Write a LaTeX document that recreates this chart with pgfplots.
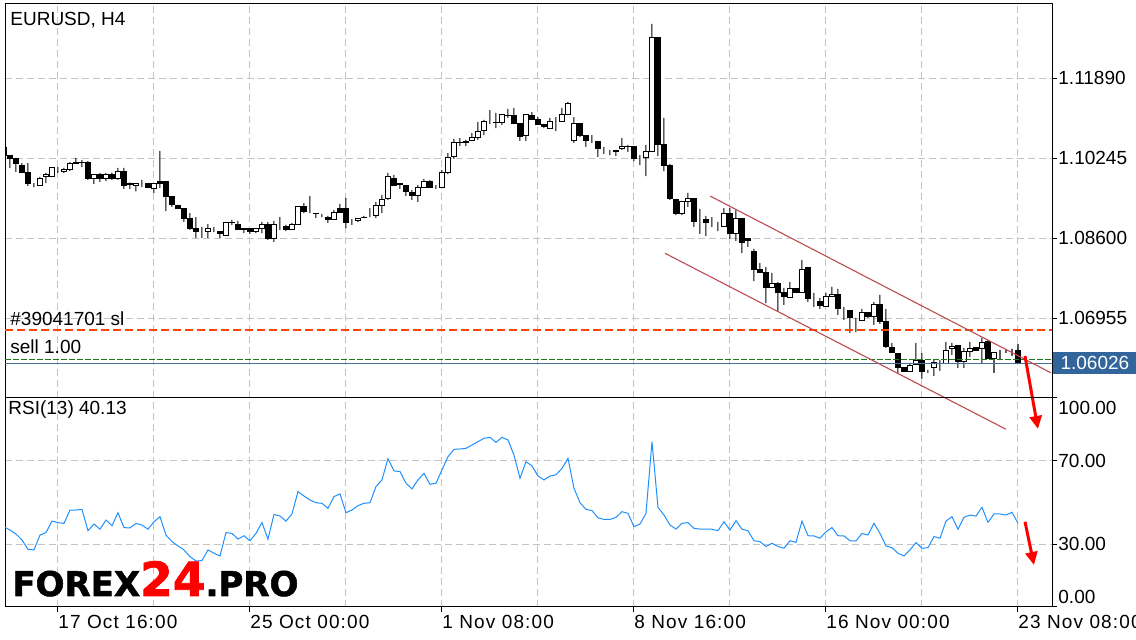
\documentclass[border=0pt]{standalone}
\usepackage{fontspec}
\setmainfont{Liberation Sans}
\newfontfamily\widefont{Liberation Sans}[LetterSpace=6]
\newfontfamily\logofont{DejaVu Sans}[BoldFeatures={FakeBold=1.6}]
\usepackage{pgfplots}
\usepackage{pgfplotstable}
\pgfplotsset{compat=1.18}
\usetikzlibrary{arrows.meta}

\definecolor{gridc}{HTML}{C4C4C4}
\definecolor{rsiblue}{HTML}{1E90FF}
\definecolor{chan}{HTML}{BE4A52}
\definecolor{slorange}{HTML}{FF4500}
\definecolor{sellgreen}{HTML}{1A7A1A}
\definecolor{bidline}{HTML}{4A6F96}
\definecolor{bidbox}{HTML}{31659C}
\definecolor{logored}{HTML}{FF0000}
\newcommand\lbl{\fontsize{9.5pt}{11pt}\selectfont}

% EURUSD H4 candles, x = bar index (0 = 17 Oct 16:00)
\pgfplotstableread{
i o h l c
-9 1.10451 1.10461 1.10266 1.10287
-8 1.10287 1.10297 1.10040 1.10235
-7 1.10225 1.10246 1.09958 1.10122
-6 1.10101 1.10142 1.09937 1.09937
-5 1.09937 1.10142 1.09670 1.09711
-4 1.09690 1.09731 1.09649 1.09690
-3 1.09670 1.09855 1.09670 1.09834
-2 1.09855 1.09937 1.09731 1.09916
-1 1.09875 1.10040 1.09855 1.10040
0 1.10019 1.10060 1.09937 1.10019
1 1.09978 1.10040 1.09937 1.09999
2 1.09999 1.10163 1.09978 1.10142
3 1.10142 1.10246 1.10122 1.10153
4 1.10153 1.10204 1.10060 1.10163
5 1.10163 1.10183 1.09793 1.09814
6 1.09814 1.09896 1.09711 1.09896
7 1.09896 1.09937 1.09752 1.09814
8 1.09814 1.09937 1.09772 1.09896
9 1.09916 1.09947 1.09793 1.09814
10 1.09814 1.10040 1.09793 1.09958
11 1.09958 1.10040 1.09608 1.09690
12 1.09711 1.09742 1.09608 1.09701
13 1.09690 1.09731 1.09557 1.09731
14 1.09711 1.09793 1.09649 1.09711
15 1.09711 1.09731 1.09629 1.09629
16 1.09608 1.09711 1.09526 1.09711
17 1.09772 1.10389 1.09629 1.09731
18 1.09772 1.09772 1.09155 1.09444
19 1.09444 1.09444 1.09238 1.09279
20 1.09259 1.09279 1.09197 1.09197
21 1.09197 1.09217 1.08930 1.09011
22 1.09011 1.09114 1.08765 1.08806
23 1.08786 1.09032 1.08601 1.08724
24 1.08765 1.08827 1.08601 1.08765
25 1.08744 1.08888 1.08601 1.08806
26 1.08786 1.08827 1.08724 1.08786
27 1.08744 1.08744 1.08601 1.08683
28 1.08662 1.08930 1.08662 1.08909
29 1.08909 1.08971 1.08868 1.08919
30 1.08888 1.08950 1.08765 1.08765
31 1.08806 1.08806 1.08703 1.08765
32 1.08786 1.08786 1.08683 1.08724
33 1.08724 1.08786 1.08703 1.08786
34 1.08786 1.08930 1.08703 1.08888
35 1.08888 1.08930 1.08560 1.08580
36 1.08580 1.08950 1.08519 1.08888
37 1.08888 1.09032 1.08765 1.08888
38 1.08827 1.08868 1.08744 1.08765
39 1.08765 1.08909 1.08765 1.08868
40 1.08868 1.09238 1.08868 1.09238
41 1.09238 1.09320 1.09114 1.09155
42 1.09135 1.09465 1.09114 1.09135
43 1.09114 1.09114 1.09011 1.09104
44 1.09073 1.09094 1.09032 1.09073
45 1.09032 1.09053 1.08909 1.08971
46 1.08991 1.09176 1.08971 1.09135
47 1.09197 1.09300 1.09135 1.09135
48 1.09197 1.09424 1.08806 1.08909
49 1.08950 1.08991 1.08868 1.08950
50 1.08950 1.09011 1.08930 1.09011
51 1.09022 1.09053 1.09011 1.09032
52 1.09053 1.09217 1.09032 1.09053
53 1.09053 1.09341 1.09011 1.09259
54 1.09259 1.09485 1.09114 1.09382
55 1.09403 1.09937 1.09382 1.09855
56 1.09834 1.09896 1.09690 1.09690
57 1.09711 1.09711 1.09608 1.09701
58 1.09690 1.09690 1.09465 1.09547
59 1.09526 1.09588 1.09382 1.09465
60 1.09465 1.09690 1.09341 1.09629
61 1.09649 1.09814 1.09629 1.09752
62 1.09752 1.09793 1.09629 1.09649
63 1.09649 1.09690 1.09608 1.09649
64 1.09649 1.09999 1.09649 1.09937
65 1.09937 1.10348 1.09916 1.10246
66 1.10266 1.10636 1.10225 1.10554
67 1.10554 1.10656 1.10492 1.10564
68 1.10575 1.10616 1.10492 1.10554
69 1.10595 1.10759 1.10595 1.10677
70 1.10677 1.10986 1.10616 1.10800
71 1.10821 1.11027 1.10718 1.10986
72 1.10986 1.11232 1.10945 1.10986
73 1.10965 1.11171 1.10862 1.10976
74 1.10965 1.11150 1.10924 1.11130
75 1.11109 1.11253 1.11068 1.11119
76 1.11109 1.11274 1.10945 1.10945
77 1.10945 1.10945 1.10595 1.10697
78 1.10718 1.11130 1.10595 1.11130
79 1.11109 1.11191 1.11047 1.11047
80 1.11047 1.11088 1.10924 1.10924
81 1.10924 1.10945 1.10862 1.10883
82 1.10862 1.11068 1.10862 1.10986
83 1.10986 1.11088 1.10800 1.10986
84 1.10986 1.11274 1.10986 1.11130
85 1.11150 1.11397 1.11150 1.11356
86 1.10595 1.11088 1.10554 1.10945
87 1.10945 1.10945 1.10677 1.10718
88 1.10718 1.10718 1.10472 1.10595
89 1.10595 1.10718 1.10554 1.10595
90 1.10575 1.10575 1.10266 1.10431
91 1.10410 1.10472 1.10328 1.10410
92 1.10389 1.10410 1.10307 1.10389
93 1.10389 1.10410 1.10287 1.10400
94 1.10431 1.10656 1.10410 1.10492
95 1.10472 1.10513 1.10369 1.10482
96 1.10472 1.10472 1.10183 1.10225
97 1.10225 1.10307 1.10101 1.10225
98 1.10246 1.10513 1.09875 1.10369
99 1.10389 1.13001 1.10389 1.12733
100 1.12733 1.12733 1.10287 1.10513
101 1.10513 1.11068 1.09978 1.10101
102 1.10081 1.10122 1.09382 1.09403
103 1.09382 1.09382 1.09073 1.09094
104 1.09094 1.09341 1.09073 1.09341
105 1.09361 1.09526 1.09238 1.09403
106 1.09403 1.09403 1.08827 1.08930
107 1.08950 1.09197 1.08683 1.08950
108 1.08971 1.09053 1.08642 1.08909
109 1.08909 1.09032 1.08827 1.08909
110 1.08888 1.08930 1.08744 1.08888
111 1.08847 1.09217 1.08827 1.09114
112 1.09114 1.09217 1.08580 1.08683
113 1.08703 1.09176 1.08539 1.09011
114 1.09011 1.09011 1.08292 1.08498
115 1.08580 1.08580 1.08416 1.08539
116 1.08313 1.08375 1.07716 1.07963
117 1.07963 1.08086 1.07901 1.07901
118 1.07901 1.08004 1.07264 1.07573
119 1.07573 1.07881 1.07573 1.07675
120 1.07675 1.07696 1.07079 1.07490
121 1.07470 1.07573 1.07223 1.07388
122 1.07367 1.07696 1.07367 1.07552
123 1.07552 1.07552 1.07490 1.07490
124 1.07490 1.08148 1.07490 1.07963
125 1.07984 1.08004 1.07285 1.07347
126 1.07326 1.07470 1.07182 1.07326
127 1.07305 1.07367 1.07141 1.07203
128 1.07182 1.07470 1.07182 1.07388
129 1.07388 1.07593 1.07388 1.07449
130 1.07449 1.07552 1.07018 1.07161
131 1.07141 1.07182 1.06915 1.07141
132 1.07100 1.07100 1.06648 1.06956
133 1.06915 1.06956 1.06668 1.06915
134 1.06894 1.07141 1.06894 1.07059
135 1.07059 1.07059 1.06956 1.06977
136 1.06977 1.07285 1.06812 1.07223
137 1.07223 1.07429 1.06833 1.06874
138 1.06874 1.07141 1.06339 1.06360
139 1.06339 1.06442 1.06237 1.06237
140 1.06216 1.06216 1.05825 1.05928
141 1.05928 1.05928 1.05846 1.05846
142 1.05846 1.06031 1.05846 1.05969
143 1.05990 1.06442 1.05990 1.06092
144 1.06092 1.06237 1.05702 1.05846
145 1.05846 1.05887 1.05825 1.05846
146 1.05928 1.06092 1.05764 1.06031
147 1.06031 1.06092 1.05866 1.06031
148 1.06010 1.06463 1.06010 1.06278
149 1.06319 1.06442 1.06196 1.06360
150 1.06381 1.06381 1.05928 1.06051
151 1.06051 1.06339 1.05928 1.06257
152 1.06257 1.06463 1.06154 1.06319
153 1.06339 1.06339 1.06278 1.06278
154 1.06319 1.06545 1.06031 1.06442
155 1.06463 1.06504 1.06113 1.06113
156 1.06113 1.06237 1.05825 1.06237
157 1.06257 1.06298 1.06092 1.06257
158 1.06257 1.06319 1.06237 1.06257
159 1.06278 1.06319 1.06175 1.06278
160 1.06278 1.06422 1.06031 1.06026
}\candles

% RSI(13)
\pgfplotstableread{
i r
-9 38.4
-8 36.8
-7 34.9
-6 32.1
-5 27.6
-4 27.3
-3 34.4
-2 35.6
-1 41.1
0 40.4
1 40.0
2 46.4
3 46.4
4 46.7
5 36.5
6 39.7
7 37.2
8 41.6
9 38.9
10 45.1
11 38.0
12 37.8
13 40.0
14 39.2
15 37.2
16 40.8
17 43.2
18 34.4
19 31.3
20 29.2
21 27.3
22 24.1
23 22.0
24 22.2
25 27.3
26 25.7
27 24.4
28 35.6
29 35.2
30 32.5
31 34.1
32 31.7
33 35.2
34 40.4
35 32.4
36 44.3
37 43.5
38 41.1
39 44.5
40 55.2
41 53.1
42 51.2
43 49.9
44 49.6
45 47.2
46 52.8
47 54.1
48 45.1
49 46.4
50 48.5
51 49.6
52 49.9
53 57.6
54 60.8
55 71.0
56 65.1
57 64.8
58 59.2
59 56.5
60 60.8
61 64.0
62 58.7
63 59.2
64 65.6
65 71.9
66 75.4
67 75.6
68 75.9
69 77.5
70 79.1
71 80.7
72 81.2
73 78.8
74 81.2
75 79.9
76 72.7
77 61.6
78 69.5
79 67.5
80 62.7
81 60.8
82 62.7
83 63.2
84 66.3
85 71.1
86 56.8
87 49.9
88 46.7
89 46.1
90 42.7
91 41.9
92 41.9
93 42.9
94 45.6
95 44.8
96 38.4
97 39.7
98 44.8
99 79.1
100 47.7
101 44.0
102 39.2
103 37.3
104 40.0
105 40.4
106 37.6
107 37.3
108 37.2
109 37.2
110 36.5
111 40.8
112 36.8
113 41.3
114 37.2
115 36.5
116 31.7
117 31.3
118 28.9
119 30.5
120 28.9
121 28.1
122 31.7
123 30.9
124 41.1
125 34.1
126 34.0
127 32.9
128 36.0
129 38.0
130 34.1
131 34.0
132 31.7
133 31.6
134 35.2
135 34.4
136 40.0
137 35.2
138 29.2
139 28.4
140 25.7
141 24.4
142 27.3
143 30.8
144 28.1
145 28.4
146 33.7
147 32.9
148 41.1
149 43.2
150 37.2
151 42.9
152 44.0
153 43.5
154 47.7
155 40.5
156 44.5
157 44.5
158 44.0
159 45.3
160 40.1
}\rsi

\pgfplotsset{
  panel/.style={scale only axis, width=523.5pt, anchor=south west,
    xmin=-8.83, xmax=165.67,
    axis line style={black, line width=0.5pt},
    tick style={black, line width=0.5pt},
    tick align=outside, major tick length=2.5pt, minor tick length=0pt,
    grid style={gridc, line width=0.5pt, dash pattern=on 3.5pt off 2pt},
    tick label style={font=\lbl},
  },
  pricepanel/.style={panel, at={(2.5pt,121pt)}, height=197pt,
    ymin=1.05311, ymax=1.13412},
}

\begin{document}
\begin{tikzpicture}
\useasboundingbox (0,0) rectangle (568pt,320pt);

% price panel frame, grid, ticks
\begin{axis}[pricepanel,
  xtick={0,16,...,160}, xticklabels={}, xtick style={draw=none},
  ytick={1.06955,1.08600,1.10245,1.11890},
  yticklabels={1.06955,1.08600,1.10245,1.11890},
  ytick pos=right, yticklabel pos=right,
  yticklabel style={anchor=west, inner sep=0pt, xshift=0.5pt},
  xmajorgrids, ymajorgrids]
\end{axis}

% wicks
\begin{axis}[pricepanel, hide axis, ybar stacked, bar width=0.17]
\addplot[draw=none, fill=none] table[x=i, y=l] {\candles};
\addplot[draw=none, fill=black] table[x=i, y expr={\thisrow{h}-\thisrow{l}}] {\candles};
\end{axis}

% bodies
\begin{axis}[pricepanel, hide axis, ybar stacked, bar width=0.72]
\addplot[draw=none, fill=none] table[x=i, y expr={min(\thisrow{o},\thisrow{c})}] {\candles};
\addplot[draw=black, fill=black, line width=0.5pt] table[x=i, y expr={max(\thisrow{o}-\thisrow{c},0)}] {\candles};
\addplot[draw=black, fill=white, line width=0.5pt] table[x=i, y expr={max(\thisrow{c}-\thisrow{o},0)}] {\candles};
\end{axis}

% order lines, channel, arrow
\begin{axis}[pricepanel, hide axis, clip=false]
\addplot[draw=slorange, line width=0.7pt, dash pattern=on 4pt off 2pt] coordinates {(-8.83,1.06709) (165.67,1.06709)};
\addplot[draw=sellgreen, line width=0.7pt, dash pattern=on 3pt off 1pt] coordinates {(-8.83,1.06107) (165.67,1.06107)};
\addplot[draw=bidline, line width=0.6pt] coordinates {(-8.83,1.06026) (165.67,1.06026)};
\addplot[draw=chan, line width=0.55pt] coordinates {(108.67,1.09464) (165.45,1.05831)};
\addplot[draw=chan, line width=0.55pt] coordinates {(101.17,1.08286) (158,1.04668)};
\addplot[red, line width=1.5pt, -{Triangle[length=6.5pt,width=6pt]}] coordinates {(161.17,1.06174) (163.33,1.04674)};
\node[fill=bidbox, text=white, anchor=west, inner sep=0pt, minimum height=11pt,
  minimum width=41.5pt, font=\lbl, xshift=0.5pt] at (axis cs:165.67,1.06026) {1.06026};
\end{axis}

% RSI panel
\begin{axis}[panel, at={(2.5pt,16.5pt)}, height=104.5pt, ymin=0, ymax=100,
  xtick={0,32,...,160},
  xticklabels={17 Oct 16:00,25 Oct 00:00,1 Nov 08:00,8 Nov 16:00,16 Nov 00:00,23 Nov 08:00},
  minor xtick={16,48,...,144},
  xtick pos=bottom,
  xticklabel style={anchor=north west, inner sep=0pt, yshift=-1.5pt, font=\widefont\lbl},
  ytick={30,70}, yticklabels={30.00,70.00},
  extra y ticks={0,100}, extra y tick labels={},
  extra y tick style={grid=none},
  ytick pos=right, yticklabel pos=right,
  yticklabel style={anchor=west, inner sep=0pt, xshift=0.5pt},
  xmajorgrids, xminorgrids, ymajorgrids]
\addplot[rsiblue, line width=0.5pt] table[x=i, y=r] {\rsi};
\addplot[red, line width=1.5pt, -{Triangle[length=6.5pt,width=6pt]}] coordinates {(161.17,40.8) (162.67,20.1)};
\end{axis}

% texts
\node[anchor=base west, inner sep=0pt, font=\lbl] at (5pt,307pt) {EURUSD, H4};
\node[anchor=base west, inner sep=0pt, font=\lbl] at (5pt,157pt) {\#39041701 sl};
\node[anchor=base west, inner sep=0pt, font=\lbl] at (5pt,143pt) {sell 1.00};
\node[anchor=base west, inner sep=0pt, font=\lbl] at (4pt,112.5pt) {RSI(13) 40.13};
\node[anchor=west, inner sep=0pt, font=\lbl] at (529pt,116pt) {100.00};
\node[anchor=west, inner sep=0pt, font=\lbl] at (529pt,21.5pt) {0.00};
\node[anchor=base west, inner sep=0pt] at (6pt,22pt)
  {\logofont\bfseries\fontsize{17pt}{18pt}\selectfont FOREX{\fontsize{23.5pt}{24pt}\selectfont\color{logored}24}.PRO};
\end{tikzpicture}
\end{document}
